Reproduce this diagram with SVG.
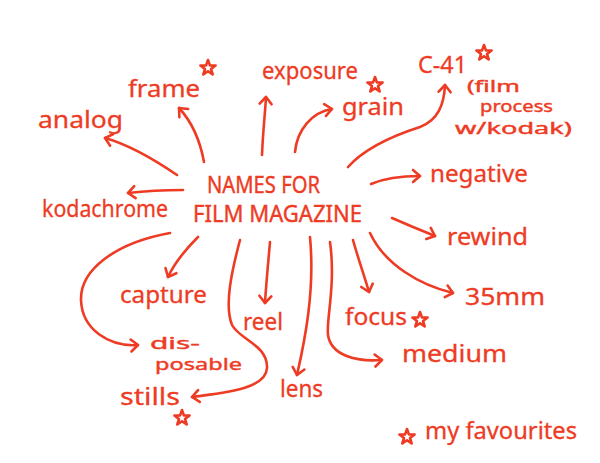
<svg xmlns="http://www.w3.org/2000/svg" xmlns:xlink="http://www.w3.org/1999/xlink" width="600" height="463" viewBox="0 0 600 463">
<style>
text{font-family:"Noto Sans","Liberation Sans",sans-serif;fill:#ee3b24;stroke:#ee3b24;stroke-width:0.3;font-size:24px}
.t{font-size:24px;stroke-width:0.4}
.m{font-size:16px;stroke-width:0.4}
.c path{fill:none;stroke:#ee3b24;stroke-width:2.6;stroke-linecap:round;marker-end:url(#arr)}
.s{fill:none;stroke:#ee3b24;stroke-width:2.6;stroke-linejoin:round}
</style>
<defs>
<marker id="arr" viewBox="-10 -8 12 16" refX="0" refY="0" markerWidth="12" markerHeight="16" markerUnits="userSpaceOnUse" orient="auto">
<path d="M-7,-6 L0,0 L-7,6" fill="none" stroke="#ee3b24" stroke-width="2.6" stroke-linecap="round" stroke-linejoin="round"/>
</marker>
<path id="star" d="M0,-8 L1.9,-2.6 L7.6,-2.5 L3,1 L4.7,6.5 L0,3.2 L-4.7,6.5 L-3,1 L-7.6,-2.5 L-1.9,-2.6 Z"/>
</defs>
<rect width="600" height="463" fill="#fff"/>
<g id="connectors" class="c">
<path d="M177,175 C155,160 130,145 105,138"/>
<path d="M204,162 C200,140 192,122 179,108"/>
<path d="M262,155 C263,130 265,115 266,97"/>
<path d="M295,152 C297,130 312,112 332,109"/>
<path d="M348,167 C365,148 395,135 420,127 C438,120 444,105 445,85"/>
<path d="M371,184 C385,178 400,176 420,176"/>
<path d="M392,218 C408,225 420,230 435,236"/>
<path d="M370,233 C385,265 420,285 453,293"/>
<path d="M353,240 C358,258 364,275 369,292"/>
<path d="M330,242 C336,285 326,320 328,335 C331,355 355,362 382,360"/>
<path d="M310,237 C315,290 305,340 297,375"/>
<path d="M270,242 C268,265 266,285 265,303"/>
<path d="M240,240 C232,270 224,305 232,325 C240,340 268,345 267,368 C266,390 220,393 192,397"/>
<path d="M198,237 C185,250 175,262 168,277"/>
<path d="M170,233 C115,243 80,270 81,300 C82,330 110,347 138,345"/>
<path d="M183,190 C165,190 145,191 128,193"/>
</g>
<g id="center"><text class="t"><tspan x="207" y="193" textLength="113" lengthAdjust="spacingAndGlyphs">NAMES FOR</tspan><tspan x="193" y="222" textLength="169" lengthAdjust="spacingAndGlyphs">FILM MAGAZINE</tspan></text></g>
<g id="frame"><text x="128" y="97" textLength="72" lengthAdjust="spacingAndGlyphs">frame</text><use xlink:href="#star" class="s" x="208" y="68"/></g>
<g id="exposure"><text x="262" y="79" textLength="96" lengthAdjust="spacingAndGlyphs">exposure</text></g>
<g id="grain"><text x="342" y="115" textLength="62" lengthAdjust="spacingAndGlyphs">grain</text><use xlink:href="#star" class="s" x="375" y="85"/></g>
<g id="c41"><text x="418" y="73" textLength="49" lengthAdjust="spacingAndGlyphs">C-41</text><use xlink:href="#star" class="s" x="484" y="53"/>
<text class="m"><tspan x="467" y="92" textLength="53" lengthAdjust="spacingAndGlyphs">(film</tspan><tspan x="480" y="112" textLength="73" lengthAdjust="spacingAndGlyphs">process</tspan><tspan x="455" y="134" textLength="117" lengthAdjust="spacingAndGlyphs">w/kodak)</tspan></text></g>
<g id="analog"><text x="38" y="128" textLength="85" lengthAdjust="spacingAndGlyphs">analog</text></g>
<g id="kodachrome"><text x="42" y="217" textLength="126" lengthAdjust="spacingAndGlyphs">kodachrome</text></g>
<g id="negative"><text x="430" y="182" textLength="98" lengthAdjust="spacingAndGlyphs">negative</text></g>
<g id="rewind"><text x="447" y="245" textLength="81" lengthAdjust="spacingAndGlyphs">rewind</text></g>
<g id="mm35"><text x="465" y="305" textLength="80" lengthAdjust="spacingAndGlyphs">35mm</text></g>
<g id="focus"><text x="345" y="325" textLength="62" lengthAdjust="spacingAndGlyphs">focus</text><use xlink:href="#star" class="s" x="420" y="320"/></g>
<g id="medium"><text x="402" y="362" textLength="105" lengthAdjust="spacingAndGlyphs">medium</text></g>
<g id="lens"><text x="280" y="397" textLength="43" lengthAdjust="spacingAndGlyphs">lens</text></g>
<g id="reel"><text x="243" y="330" textLength="40" lengthAdjust="spacingAndGlyphs">reel</text></g>
<g id="capture"><text x="120" y="303" textLength="87" lengthAdjust="spacingAndGlyphs">capture</text></g>
<g id="disposable"><text class="m"><tspan x="150" y="349" textLength="50" lengthAdjust="spacingAndGlyphs">dis-</tspan><tspan x="155" y="370" textLength="87" lengthAdjust="spacingAndGlyphs">posable</tspan></text></g>
<g id="stills"><text x="120" y="405" textLength="60" lengthAdjust="spacingAndGlyphs">stills</text><use xlink:href="#star" class="s" x="182" y="418"/></g>
<g id="legend"><use xlink:href="#star" class="s" x="407" y="437"/><text x="425" y="439" textLength="152" lengthAdjust="spacingAndGlyphs">my favourites</text></g>
</svg>
